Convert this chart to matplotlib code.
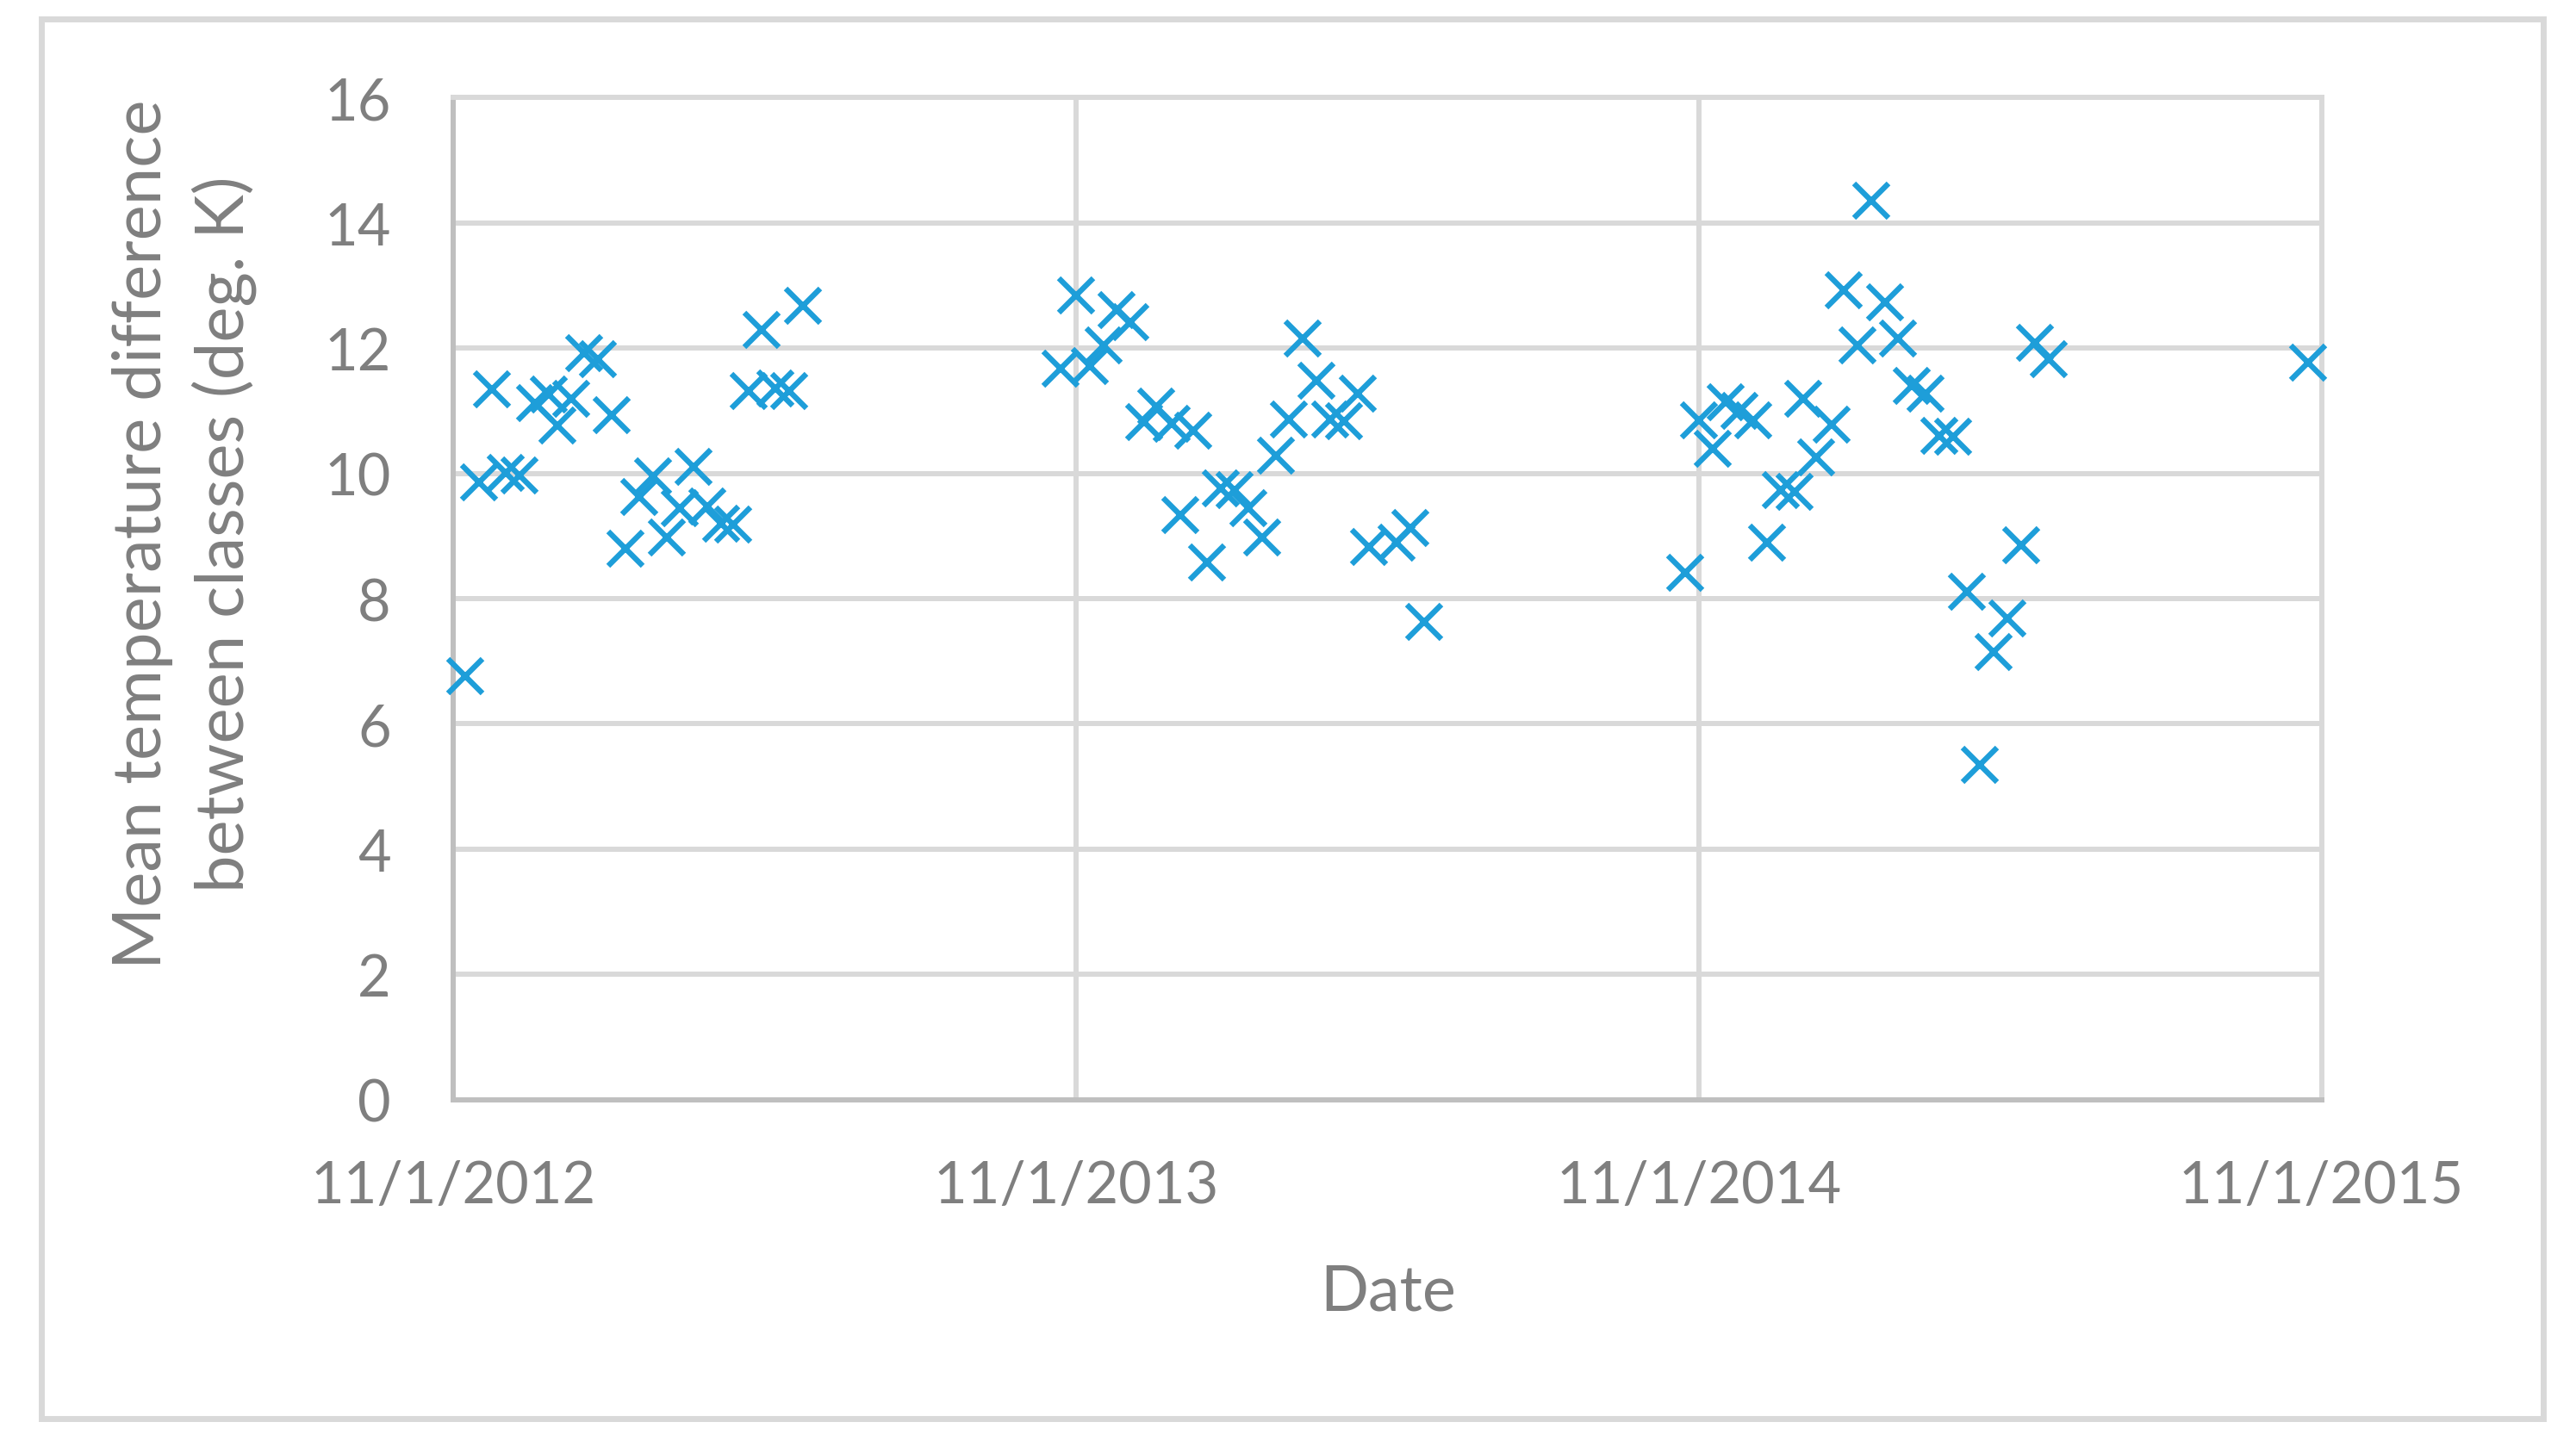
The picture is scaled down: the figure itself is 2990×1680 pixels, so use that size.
import matplotlib
matplotlib.use("Agg")
import matplotlib.pyplot as plt
from matplotlib.patches import Rectangle
import pandas as pd

# observation dates and mean temperature difference (deg. K)
dates = [
    "2012-11-08", "2012-11-16", "2012-11-24", "2012-12-02", "2012-12-10",
    "2012-12-19", "2012-12-27", "2013-01-01", "2013-01-09", "2013-01-17",
    "2013-01-25", "2013-02-02", "2013-02-10", "2013-02-18", "2013-02-26",
    "2013-03-06", "2013-03-14", "2013-03-22", "2013-03-30", "2013-04-07",
    "2013-04-14", "2013-04-23", "2013-05-01", "2013-05-09", "2013-05-17",
    "2013-05-25",
    "2013-10-23", "2013-11-01", "2013-11-09", "2013-11-17", "2013-11-25",
    "2013-12-03", "2013-12-11", "2013-12-18", "2013-12-27", "2014-01-01",
    "2014-01-09", "2014-01-17", "2014-01-25", "2014-02-02", "2014-02-10",
    "2014-02-18", "2014-02-26", "2014-03-06", "2014-03-14", "2014-03-22",
    "2014-03-30", "2014-04-07", "2014-04-15", "2014-04-22", "2014-05-08",
    "2014-05-16", "2014-05-24",
    "2014-10-24", "2014-11-01", "2014-11-09", "2014-11-17", "2014-11-25",
    "2014-12-03", "2014-12-11", "2014-12-19", "2014-12-27", "2015-01-01",
    "2015-01-09", "2015-01-18", "2015-01-25", "2015-02-02", "2015-02-10",
    "2015-02-18", "2015-02-26", "2015-03-06", "2015-03-14", "2015-03-22",
    "2015-03-30", "2015-04-07", "2015-04-15", "2015-04-23", "2015-05-01",
    "2015-05-09", "2015-05-17", "2015-05-25", "2015-10-24",
]
temp_diff = [
    6.76, 9.86, 11.34, 10.01, 9.97,
    11.12, 11.26, 10.77, 11.19, 11.92,
    11.82, 10.93, 8.80, 9.63, 9.95,
    8.98, 9.44, 10.10, 9.47, 9.20,
    9.18, 11.31, 12.29, 11.36, 11.31,
    12.68,
    11.68, 12.84, 11.71, 12.04, 12.61,
    12.42, 10.82, 11.07, 10.79, 9.33,
    10.68, 8.58, 9.76, 9.74, 9.44,
    8.98, 10.29, 10.86, 12.15, 11.48,
    10.86, 10.84, 11.28, 8.83, 8.89,
    9.13, 7.63,
    8.41, 10.85, 10.40, 11.13, 11.00,
    10.85, 8.89, 9.74, 9.71, 11.19,
    10.26, 10.78, 12.92, 12.04, 14.36,
    12.73, 12.16, 11.40, 11.27, 10.60,
    10.58, 8.11, 5.35, 7.15, 7.68,
    8.85, 12.09, 11.82, 11.77,
]

x_ticks = ["2012-11-01", "2013-11-01", "2014-11-01", "2015-11-01"]
x_tick_labels = ["11/1/2012", "11/1/2013", "11/1/2014", "11/1/2015"]
y_ticks = [0, 2, 4, 6, 8, 10, 12, 14, 16]

text_grey = "#7f7f7f"
grid_grey = "#d9d9d9"
axis_grey = "#bfbfbf"
blue = "#1e9ed9"

plt.rcParams["font.family"] = ["Lato", "DejaVu Sans"]

fig = plt.figure(figsize=(29.9, 16.81), dpi=100)
ax = fig.add_axes([0.1759, 0.2400, 0.9012 - 0.1759, 0.9319 - 0.2400])

# outer chart border
fig.patches.append(Rectangle((0.0161, 0.0196), 0.9712, 0.9667, transform=fig.transFigure,
                             fill=False, edgecolor=grid_grey, linewidth=5))

x = pd.to_datetime(dates)
ax.plot(x, temp_diff, linestyle="none", marker="x", markersize=29,
        markeredgewidth=4.6, color=blue, zorder=3, clip_on=False)

tick_dates = pd.to_datetime(x_ticks)
ax.set_xlim(tick_dates[0], tick_dates[-1])
ax.set_ylim(0, 16)
ax.set_xticks(tick_dates)
ax.set_xticklabels(x_tick_labels)
ax.set_yticks(y_ticks)

ax.grid(True, color=grid_grey, linewidth=4.3, zorder=0)
ax.set_axisbelow(True)
for side in ["top", "right"]:
    ax.spines[side].set_color(grid_grey)
    ax.spines[side].set_linewidth(4.3)
for side in ["left", "bottom"]:
    ax.spines[side].set_color(axis_grey)
    ax.spines[side].set_linewidth(4.3)

ax.tick_params(axis="both", length=0, labelsize=48, labelcolor=text_grey)
ax.tick_params(axis="y", pad=52)
ax.tick_params(axis="x", pad=50)

fig.text(0.539, 0.0946, "Date", ha="center", va="baseline", fontsize=53, color=text_grey)
fig.text(0.0715, 0.631, "Mean temperature difference\nbetween classes (deg. K)",
         rotation=90, ha="center", va="center", multialignment="center",
         fontsize=56, color=text_grey, linespacing=1.35)

fig.savefig("out.png", dpi=100)
